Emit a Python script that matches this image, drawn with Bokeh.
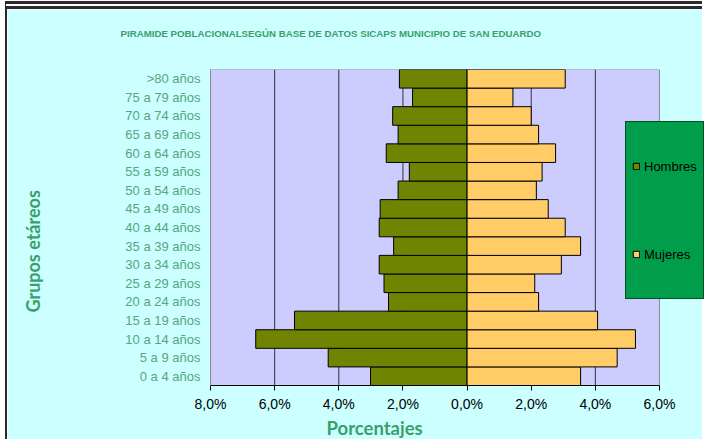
from bokeh.plotting import figure
from bokeh.models import FixedTicker, Legend, LegendItem, Title, ColumnDataSource
from bokeh.embed import file_html
from bokeh.resources import INLINE

categories = ["0 a 4 años", "5 a 9 años", "10 a 14 años", "15 a 19 años", "20 a 24 años",
              "25 a 29 años", "30 a 34 años", "35 a 39 años", "40 a 44 años", "45 a 49 años",
              "50 a 54 años", "55 a 59 años", "60 a 64 años", "65 a 69 años", "70 a 74 años",
              "75 a 79 años", ">80 años"]
hombres = [3.01, 4.33, 6.59, 5.38, 2.45, 2.59, 2.74, 2.29, 2.74, 2.71, 2.15, 1.80, 2.52, 2.15, 2.32, 1.70, 2.11]
mujeres = [3.54, 4.68, 5.25, 4.07, 2.23, 2.11, 2.94, 3.54, 3.06, 2.53, 2.16, 2.34, 2.76, 2.23, 2.00, 1.43, 3.06]
tick_values = [-8, -6, -4, -2, 0, 2, 4, 6]
tick_labels = ["8,0%", "6,0%", "4,0%", "2,0%", "0,0%", "2,0%", "4,0%", "6,0%"]
title_text = "PIRAMIDE POBLACIONALSEGÚN BASE DE DATOS SICAPS  MUNICIPIO DE SAN EDUARDO"
x_title = "Porcentajes"
y_title = "Grupos etáreos"

idx = list(range(len(categories)))
src = ColumnDataSource(dict(y=idx,
                            hl=[-v for v in hombres], hr=[0] * len(hombres),
                            ml=[0] * len(mujeres), mr=mujeres))

GREEN = "#3A9F6B"
CYAN = "#CCFFFF"

# layout (pixels)
W, H = 697, 438
LEFT, TOP, BOTTOM = 203, 60, 62
AREA_W = 449  # width of the plotted range (-8..6)
frame_w = W - LEFT
x_end = tick_values[0] + (tick_values[-1] - tick_values[0]) * frame_w / AREA_W

p = figure(width=W, height=H, output_backend="svg", toolbar_location=None,
           x_range=(tick_values[0], x_end), y_range=(-0.5, len(categories) - 0.5),
           min_border_left=LEFT, min_border_right=0, min_border_top=TOP, min_border_bottom=BOTTOM)
p.styles = {"margin-left": "5px", "margin-top": "1px",
            "border-left": "2px solid #2b2b2b", "border-top": "8px double #2b2b2b"}
p.border_fill_color = CYAN
p.background_fill_color = CYAN
p.outline_line_color = None

# plot area background and grid
p.quad(left=[tick_values[0]], right=[tick_values[-1]], bottom=[-0.5], top=[len(categories) - 0.5],
       fill_color="#CCCCFF", line_color="#8A8A8A", line_width=1)
p.segment(x0=tick_values[1:-1], x1=tick_values[1:-1],
          y0=[-0.5] * (len(tick_values) - 2), y1=[len(categories) - 0.5] * (len(tick_values) - 2),
          line_color="#333333", line_width=1)

r1 = p.hbar(y="y", left="hl", right="hr", height=1.0, source=src,
            fill_color="#6F8400", line_color="#000000", line_width=1)
r2 = p.hbar(y="y", left="ml", right="mr", height=1.0, source=src,
            fill_color="#FFCC66", line_color="#000000", line_width=1)

p.xgrid.grid_line_color = None
p.ygrid.grid_line_color = None

p.xaxis.ticker = FixedTicker(ticks=tick_values)
p.xaxis.bounds = (tick_values[0], tick_values[-1])
p.xaxis.major_label_overrides = {t: l for t, l in zip(tick_values, tick_labels)}
p.xaxis.major_label_text_font = "Liberation Sans"
p.xaxis.major_label_text_font_size = "14px"
p.xaxis.major_label_text_color = "#000000"
p.xaxis.axis_line_color = "#000000"
p.xaxis.major_tick_line_color = "#000000"
p.xaxis.major_tick_out = 5
p.xaxis.major_tick_in = 0
p.xaxis.minor_tick_line_color = None
p.xaxis.major_label_standoff = 5

p.yaxis.ticker = FixedTicker(ticks=idx)
p.yaxis.major_label_overrides = {i: c for i, c in zip(idx, categories)}
p.yaxis.major_label_text_font = "Liberation Sans"
p.yaxis.major_label_text_font_size = "13px"
p.yaxis.major_label_text_color = "#55A67C"
p.yaxis.axis_line_color = "#8A8A8A"
p.yaxis.major_tick_line_color = None
p.yaxis.minor_tick_line_color = None
p.yaxis.major_tick_out = 0
p.yaxis.major_tick_in = 0
p.yaxis.major_label_standoff = 10

legend = Legend(items=[LegendItem(label="Hombres", renderers=[r1]),
                       LegendItem(label="Mujeres", renderers=[r2])],
                location=(415, 86), orientation="vertical",
                background_fill_color="#009E4A", background_fill_alpha=1.0,
                border_line_color="#000000", border_line_width=1,
                glyph_width=8, glyph_height=8, label_height=76, spacing=12, padding=6,
                label_standoff=4, label_text_font="Liberation Sans",
                label_text_font_size="13px", label_text_color="#000000", margin=0)
p.add_layout(legend, "center")

# spacers (empty titles) push the real titles away from the frame
p.add_layout(Title(text=" ", text_font_size="1px", standoff=28), "above")
p.add_layout(Title(text=title_text, align="left", offset=-90, standoff=0,
                   text_font="Liberation Sans", text_font_style="bold", text_font_size="9.7px",
                   text_color=GREEN), "above")

p.add_layout(Title(text=x_title, align="left", offset=116, standoff=0,
                   text_font="Lato", text_font_style="bold", text_font_size="18.5px",
                   text_color=GREEN), "below")

p.add_layout(Title(text=" ", text_font_size="1px", standoff=76), "left")
p.add_layout(Title(text=y_title, align="left", offset=73, standoff=0,
                   text_font="Lato", text_font_style="bold", text_font_size="18px",
                   text_color=GREEN), "left")

open("out.html", "w").write(file_html(p, INLINE))
